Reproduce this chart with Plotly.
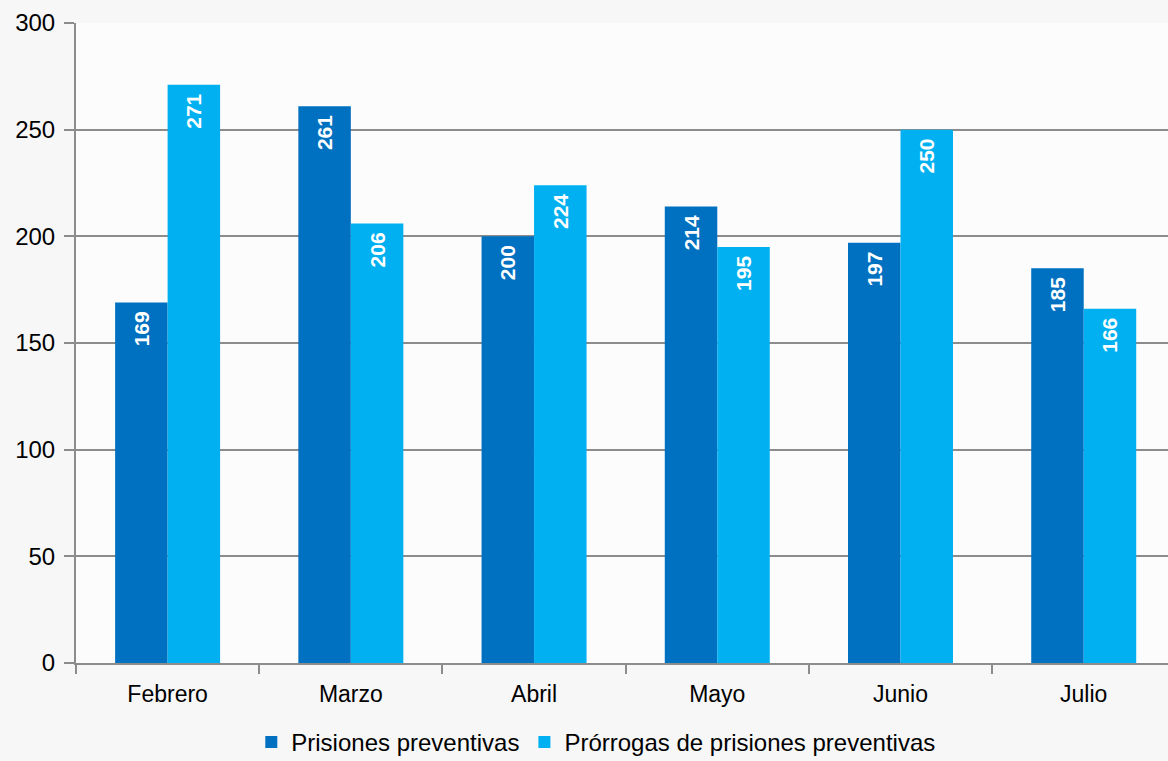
import plotly.graph_objects as go

months = ["Febrero", "Marzo", "Abril", "Mayo", "Junio", "Julio"]
prisiones = [169, 261, 200, 214, 197, 185]
prorrogas = [271, 206, 224, 195, 250, 166]
series_names = ["Prisiones preventivas", "Prórrogas de prisiones preventivas"]
y_ticks = [0, 50, 100, 150, 200, 250, 300]

FONT = "Liberation Sans, Arial, sans-serif"
GRAY = "#8c8c8c"

fig = go.Figure()
for name, vals, color in [(series_names[0], prisiones, "#0070C0"),
                          (series_names[1], prorrogas, "#00B0F0")]:
    fig.add_trace(go.Bar(
        x=months, y=vals, name=name, marker=dict(color=color, line=dict(width=0)),
        text=[str(v) + "\u00a0" for v in vals], textposition="inside", insidetextanchor="end",
        textangle=-90, textfont=dict(family=FONT, size=21, color="white", weight="bold"),
        cliponaxis=False,
    ))

fig.update_layout(
    width=1168, height=761, autosize=False,
    margin=dict(l=76, r=0, t=23, b=98, autoexpand=False),
    barmode="group", bargap=0.427, bargroupgap=0,
    paper_bgcolor="#f7f7f7", plot_bgcolor="#fcfcfc",
    font=dict(family=FONT, size=22, color="#000000"),
    showlegend=True,
    legend=dict(orientation="h", x=0.476, xanchor="center",
                y=-0.124, yanchor="middle", font=dict(size=24, family=FONT),
                traceorder="normal", itemwidth=30,
                bgcolor="rgba(0,0,0,0)"),
    xaxis=dict(range=[-0.5, 5.46], showline=True, linecolor=GRAY, linewidth=2,
               ticks="outside", tickson="boundaries", ticklen=9, tickwidth=2,
               tickcolor=GRAY, tickfont=dict(size=23, family=FONT), showgrid=False,
               tickangle=0, ticklabelstandoff=9),
    yaxis=dict(range=[0, 300], tickvals=y_ticks, showline=True, linecolor=GRAY,
               linewidth=2, ticks="outside", ticklen=10, tickwidth=2, tickcolor=GRAY,
               showgrid=True, gridcolor=GRAY, gridwidth=1.5, zeroline=False,
               tickfont=dict(size=24, family=FONT), ticklabelstandoff=4),
)

fig.write_html("out.html", config={"displayModeBar": False},
               post_script="document.body.style.margin='0';")
